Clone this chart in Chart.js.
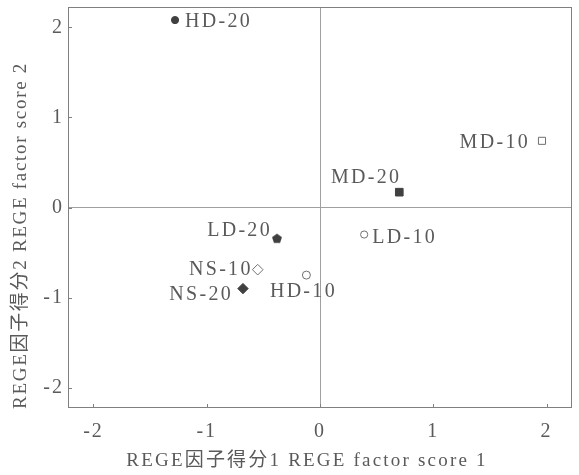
<!DOCTYPE html>
<html>
<head>
<meta charset="utf-8">
<script src="https://cdn.jsdelivr.net/npm/chart.js@4.4.0/dist/chart.umd.min.js"></script>
<style>
html, body { margin: 0; padding: 0; background: #fff; }
</style>
</head>
<body>
<canvas id="myChart" width="579" height="475"></canvas>
<script>
//data
const sampleNames = ['HD-20', 'MD-10', 'MD-20', 'LD-10', 'LD-20', 'NS-10', 'HD-10', 'NS-20'];
const factor1 = [-1.28, 1.96, 0.70, 0.39, -0.38, -0.55, -0.12, -0.68];
const factor2 = [2.08, 0.74, 0.17, -0.30, -0.34, -0.69, -0.75, -0.90];
const tickValues = [-2, -1, 0, 1, 2];
const xTitle = 'REGE因子得分1 REGE factor score 1';
const yTitle = 'REGE因子得分2 REGE factor score 2';

//styles
const fontFamily = "'Liberation Serif', 'Noto Sans CJK SC', serif";
const textColor = '#5a5a5a';
const dark = '#404040';
const open = '#707070';

// pentagon marker, Chart.js has none
function makePentagon() {
    var c = document.createElement('canvas');
    c.width = 12;
    c.height = 12;
    var g = c.getContext('2d');
    g.beginPath();
    for (var i = 0; i < 5; i++) {
        var a = -Math.PI / 2 + i * 2 * Math.PI / 5;
        var px = 6 + 5.2 * Math.cos(a);
        var py = 6.6 + 5.0 * Math.sin(a);
        if (i == 0) g.moveTo(px, py); else g.lineTo(px, py);
    }
    g.closePath();
    g.fillStyle = dark;
    g.fill();
    return c;
}

const pointStyles = ['circle', 'rect', 'rect', 'circle', makePentagon(), 'rectRot', 'circle', 'rectRot'];
const pointRadius = [3.6, 5, 5.4, 3.6, 6, 5.3, 4, 5.2];
const pointFill = [dark, '#fff', dark, '#fff', dark, '#fff', '#fff', dark];
const pointBorder = [dark, open, dark, open, dark, open, open, dark];

// label offsets from the point [dx, dy, align]
const labelPos = [
    [10, 1.5, 'left'],
    [-12, 2, 'right'],
    [2, -14.5, 'right'],
    [8, 3, 'left'],
    [-5, -7, 'right'],
    [-5, 0, 'right'],
    [-3, 17, 'center'],
    [-10, 6, 'right']
];

const points = factor1.map((v, i) => ({ x: v, y: factor2[i] }));

const frameAndTicks = {
    id: 'frameAndTicks',
    beforeDraw(chart) {
        // spaced out digits like the print
        chart.ctx.letterSpacing = '2px';
    },
    afterDraw(chart) {
        const ctx = chart.ctx;
        const a = chart.chartArea;
        const xs = chart.scales.x;
        const ys = chart.scales.y;
        ctx.save();
        ctx.strokeStyle = '#808080';
        ctx.lineWidth = 1;
        ctx.strokeRect(a.left + 0.5, a.top + 0.5, a.right - a.left - 1, a.bottom - a.top - 1);
        ctx.beginPath();
        tickValues.forEach(v => {
            const px = Math.round(xs.getPixelForValue(v)) + 0.5;
            ctx.moveTo(px, a.bottom);
            ctx.lineTo(px, a.bottom - 4);
            const py = Math.round(ys.getPixelForValue(v)) + 0.5;
            ctx.moveTo(a.left, py);
            ctx.lineTo(a.left + 4, py);
        });
        ctx.stroke();

        // axis titles
        ctx.font = '19px ' + fontFamily;
        ctx.fillStyle = textColor;
        ctx.textAlign = 'center';
        ctx.textBaseline = 'middle';
        ctx.letterSpacing = '2.2px';
        ctx.fillText(xTitle, (a.left + a.right) / 2 - 13, 461);
        ctx.translate(21, (a.top + a.bottom) / 2 + 28);
        ctx.rotate(-Math.PI / 2);
        ctx.letterSpacing = '1.7px';
        ctx.fillText(yTitle, 0, 0);
        ctx.restore();
        ctx.letterSpacing = '0px';
    }
};

const pointLabels = {
    id: 'pointLabels',
    afterDatasetsDraw(chart) {
        const ctx = chart.ctx;
        const meta = chart.getDatasetMeta(0);
        ctx.save();
        ctx.font = '20px ' + fontFamily;
        ctx.fillStyle = textColor;
        ctx.textBaseline = 'middle';
        ctx.letterSpacing = '2.3px';
        meta.data.forEach((el, i) => {
            const p = labelPos[i];
            ctx.textAlign = p[2];
            ctx.fillText(sampleNames[i], el.x + p[0], el.y + p[1]);
        });
        ctx.restore();
    }
};

function loadChart() {
    var ctx = document.getElementById('myChart').getContext('2d');
    var chart = new Chart(ctx, {
        type: 'scatter',
        data: {
            datasets: [{
                data: points,
                pointStyle: pointStyles,
                pointRadius: pointRadius,
                backgroundColor: pointFill,
                borderColor: pointBorder,
                borderWidth: 1
            }]
        },
        options: {
            responsive: false,
            animation: false,
            devicePixelRatio: 1,
            layout: { padding: { top: 6, right: 7, left: 0, bottom: 0 } },
            plugins: {
                legend: { display: false },
                tooltip: { enabled: false }
            },
            scales: {
                x: {
                    type: 'linear',
                    min: -2.225,
                    max: 2.225,
                    afterBuildTicks: (s) => { s.ticks = tickValues.map(v => ({ value: v })); },
                    afterFit: (s) => { s.height = 67; s.paddingLeft = 0; s.paddingRight = 0; },
                    grid: {
                        drawTicks: false,
                        color: (c) => (c.tick && c.tick.value === 0) ? '#a0a0a0' : 'rgba(0,0,0,0)'
                    },
                    border: { display: false },
                    ticks: {
                        padding: 12,
                        color: textColor,
                        font: { family: fontFamily, size: 20 }
                    },
                    title: { display: false }
                },
                y: {
                    type: 'linear',
                    min: -2.225,
                    max: 2.225,
                    afterBuildTicks: (s) => { s.ticks = tickValues.map(v => ({ value: v })); },
                    afterFit: (s) => { s.width = 68; s.paddingTop = 0; s.paddingBottom = 0; },
                    grid: {
                        drawTicks: false,
                        color: (c) => (c.tick && c.tick.value === 0) ? '#a0a0a0' : 'rgba(0,0,0,0)'
                    },
                    border: { display: false },
                    ticks: {
                        padding: 4,
                        color: textColor,
                        font: { family: fontFamily, size: 20 }
                    },
                    title: { display: false }
                }
            }
        },
        plugins: [frameAndTicks, pointLabels]
    });
}

loadChart();
</script>
</body>
</html>
